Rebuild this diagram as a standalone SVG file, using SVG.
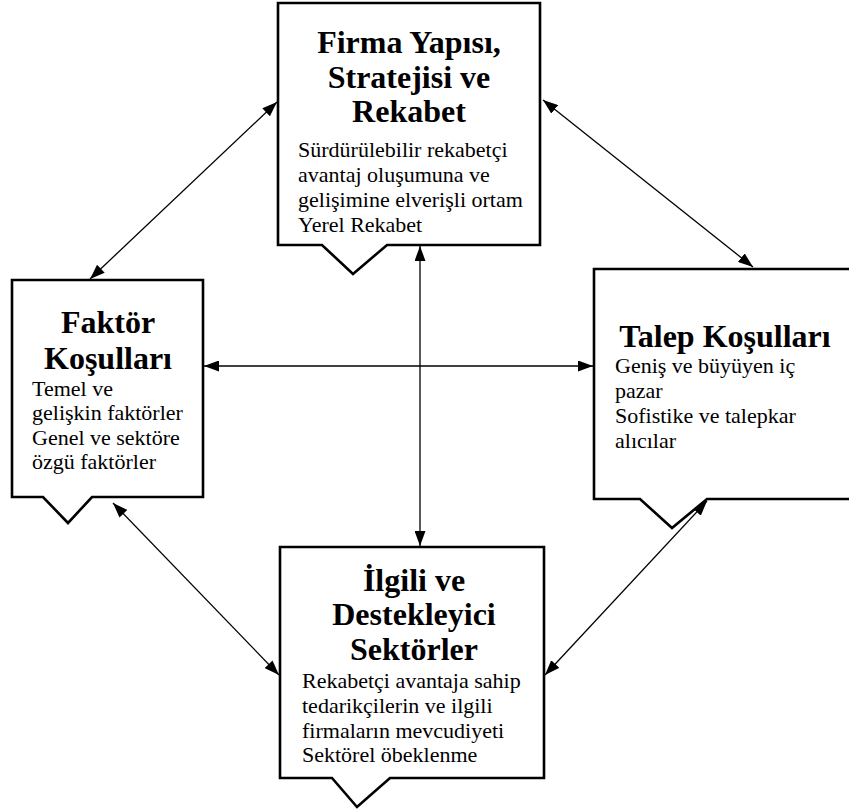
<svg xmlns="http://www.w3.org/2000/svg" width="849" height="809" viewBox="0 0 849 809">
  <style>
    .box { fill: #ffffff; stroke: #000000; stroke-width: 2.6; stroke-linejoin: miter; }
    .title { font-family: 'Liberation Serif', serif; font-weight: bold; font-size: 32px; fill: #000; text-anchor: middle; }
    .body { font-family: 'Liberation Serif', serif; font-size: 22px; fill: #000; }
    .link { stroke: #000; stroke-width: 1.3; fill: none; marker-start: url(#head); marker-end: url(#head); }
  </style>
  <defs>
    <marker id="head" markerUnits="userSpaceOnUse" markerWidth="15" markerHeight="11" refX="15" refY="5.5" orient="auto-start-reverse">
      <path d="M0,0 L15,5.5 L0,11 Z" fill="#000"/>
    </marker>
  </defs>
  <rect width="849" height="809" fill="#ffffff"/>

  <g id="connectors">
    <line class="link" x1="90" y1="279" x2="277" y2="102"/>
    <line class="link" x1="543" y1="100" x2="753" y2="267"/>
    <line class="link" x1="204" y1="366" x2="593" y2="366"/>
    <line class="link" x1="420" y1="246" x2="420" y2="546"/>
    <line class="link" x1="113" y1="503" x2="279" y2="675"/>
    <line class="link" x1="707" y1="501" x2="545" y2="675"/>
  </g>

  <g id="firma" font-family="Liberation Serif, serif">
    <path class="box" d="M278,3 H540 V245 H387 L353,274 L322,245 H278 Z"/>
    <text class="title" x="409" y="53">Firma Yapısı,</text>
    <text class="title" x="409" y="88">Stratejisi ve</text>
    <text class="title" x="409" y="122">Rekabet</text>
    <text class="body" x="298" y="157">Sürdürülebilir rekabetçi</text>
    <text class="body" x="298" y="182">avantaj oluşumuna ve</text>
    <text class="body" x="298" y="207">gelişimine elverişli ortam</text>
    <text class="body" x="298" y="232">Yerel Rekabet</text>
  </g>

  <g id="faktor" font-family="Liberation Serif, serif">
    <path class="box" d="M12,280 H203 V497 H92 L68,523 L43,497 H12 Z"/>
    <text class="title" x="108" y="333">Faktör</text>
    <text class="title" x="108" y="369">Koşulları</text>
    <text class="body" x="32" y="396">Temel ve</text>
    <text class="body" x="32" y="420">gelişkin faktörler</text>
    <text class="body" x="32" y="445">Genel ve sektöre</text>
    <text class="body" x="32" y="469">özgü faktörler</text>
  </g>

  <g id="talep" font-family="Liberation Serif, serif">
    <path class="box" d="M594,269 H862 V499 H707 L672,528 L640,499 H594 Z"/>
    <text class="title" x="725" y="347">Talep Koşulları</text>
    <text class="body" x="615" y="373">Geniş ve büyüyen iç</text>
    <text class="body" x="615" y="398">pazar</text>
    <text class="body" x="615" y="423">Sofistike ve talepkar</text>
    <text class="body" x="615" y="448">alıcılar</text>
  </g>

  <g id="ilgili" font-family="Liberation Serif, serif">
    <path class="box" d="M280,547 H544 V778 H390 L357,807 L332,778 H280 Z"/>
    <text class="title" x="414" y="591">İlgili ve</text>
    <text class="title" x="414" y="625">Destekleyici</text>
    <text class="title" x="414" y="660">Sektörler</text>
    <text class="body" x="302" y="688">Rekabetçi avantaja sahip</text>
    <text class="body" x="302" y="713">tedarikçilerin ve ilgili</text>
    <text class="body" x="302" y="738">firmaların mevcudiyeti</text>
    <text class="body" x="302" y="762">Sektörel öbeklenme</text>
  </g>
</svg>
